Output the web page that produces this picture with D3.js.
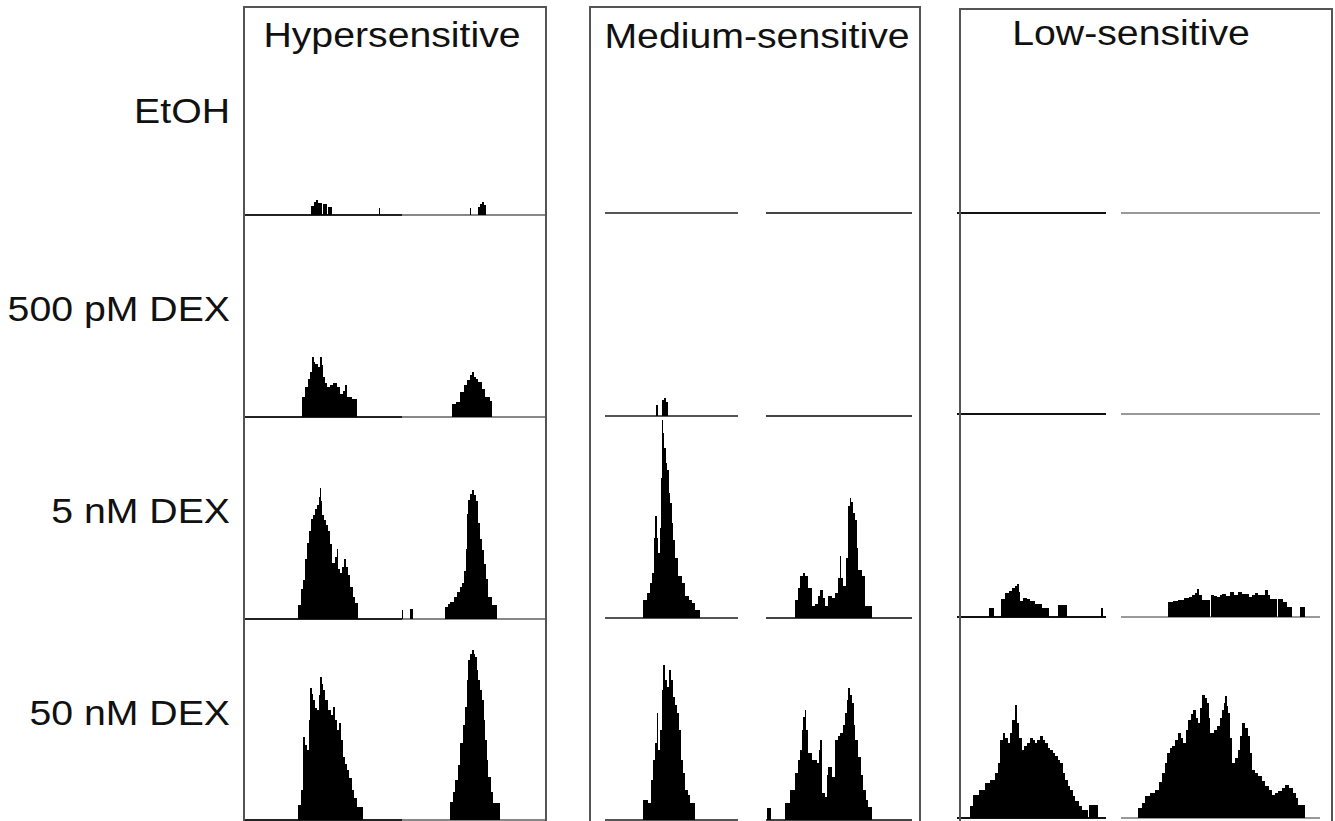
<!DOCTYPE html>
<html>
<head>
<meta charset="utf-8">
<script src="https://cdn.jsdelivr.net/npm/d3@7"></script>
<style>
  html, body { margin: 0; padding: 0; background: #fff; }
  svg { display: block; }
</style>
</head>
<body>
<div id="chart"></div>
<script>
// Categories
const panels = ["Hypersensitive", "Medium-sensitive", "Low-sensitive"];
const conditions = ["EtOH", "500 pM DEX", "5 nM DEX", "50 nM DEX"];

// Signal profiles, [bin, signal] pairs (step after each bin)
// Hypersensitive loci
const hyperEtohL = [[66, 9], [69, 13], [71, 15], [73, 12], [77, 0], [78, 11], [82, 0], [83, 8], [87, 0], [134, 7], [135, 0]];
const hyperEtohR = [[68, 7], [69, 0], [76, 8], [78, 11], [80, 13], [82, 10], [84, 0]];
const hyper500pL = [[57, 20], [60, 30], [63, 38], [65, 45], [67, 60], [69, 55], [70, 53], [73, 50], [75, 60], [77, 52], [78, 40], [80, 34], [82, 30], [85, 32], [88, 34], [92, 30], [95, 23], [98, 26], [100, 32], [102, 20], [107, 18], [112, 0]];
const hyper500pR = [[50, 13], [54, 15], [58, 25], [62, 32], [65, 37], [68, 42], [70, 45], [72, 40], [74, 38], [76, 35], [80, 28], [83, 20], [88, 16], [90, 0]];
const hyper5nL = [[53, 14], [56, 30], [58, 39], [60, 60], [62, 76], [64, 88], [66, 100], [68, 104], [70, 110], [72, 114], [74, 122], [75, 131], [76, 118], [77, 104], [79, 99], [81, 94], [83, 88], [85, 75], [87, 56], [90, 62], [92, 70], [93, 50], [95, 46], [97, 52], [99, 60], [101, 52], [103, 44], [105, 32], [108, 22], [110, 16], [113, 0]];
const hyper5nR = [[0, 9], [1, 0], [8, 10], [11, 0], [43, 12], [46, 15], [48, 17], [52, 22], [55, 27], [58, 32], [60, 36], [62, 48], [64, 70], [65, 105], [66, 119], [68, 125], [70, 129], [72, 124], [74, 118], [76, 96], [78, 80], [80, 69], [82, 55], [84, 40], [86, 22], [90, 14], [95, 0]];
const hyper50nL = [[53, 15], [56, 30], [58, 83], [60, 75], [62, 70], [64, 100], [65, 132], [67, 126], [68, 120], [70, 112], [72, 110], [74, 125], [75, 143], [77, 136], [78, 130], [80, 120], [83, 110], [86, 105], [88, 113], [90, 100], [92, 90], [94, 97], [96, 80], [98, 63], [100, 56], [102, 50], [104, 42], [107, 30], [109, 22], [112, 13], [118, 0]];
const hyper50nR = [[48, 18], [51, 28], [53, 40], [56, 55], [58, 77], [61, 95], [63, 113], [65, 140], [66, 160], [68, 166], [70, 170], [72, 166], [73, 163], [75, 150], [76, 140], [78, 130], [80, 120], [82, 100], [83, 80], [85, 60], [86, 43], [89, 28], [91, 17], [98, 0]];

// Medium-sensitive loci
const mediumEtohL = [];
const mediumEtohR = [];
const medium500pL = [[51, 11], [53, 0], [57, 16], [59, 18], [61, 14], [63, 0]];
const medium500pR = [];
const medium5nL = [[38, 18], [42, 25], [45, 35], [47, 45], [49, 80], [50, 102], [52, 80], [53, 65], [55, 90], [56, 140], [57, 198], [58, 185], [59, 170], [61, 155], [62, 148], [64, 125], [65, 115], [67, 95], [68, 78], [70, 60], [73, 42], [77, 35], [80, 22], [84, 18], [87, 15], [90, 8], [95, 0]];
const medium5nR = [[29, 18], [32, 30], [34, 42], [37, 45], [39, 42], [42, 30], [46, 12], [49, 14], [52, 22], [54, 28], [57, 20], [59, 12], [62, 22], [66, 20], [69, 25], [72, 40], [74, 62], [75, 40], [77, 32], [80, 60], [82, 112], [84, 120], [85, 116], [87, 105], [89, 98], [91, 70], [92, 48], [96, 42], [99, 12], [106, 0]];
const medium50nL = [[38, 20], [43, 17], [46, 40], [48, 60], [50, 77], [52, 107], [53, 70], [55, 90], [57, 130], [58, 155], [60, 140], [62, 133], [64, 150], [66, 140], [68, 123], [70, 115], [72, 107], [74, 90], [76, 60], [78, 47], [80, 30], [83, 25], [85, 17], [90, 0]];
const medium50nR = [[1, 12], [5, 0], [19, 17], [24, 30], [29, 47], [32, 60], [34, 70], [36, 90], [37, 103], [39, 110], [40, 90], [42, 67], [46, 60], [51, 57], [53, 70], [54, 80], [56, 27], [59, 23], [61, 45], [62, 53], [66, 43], [69, 80], [72, 84], [74, 87], [77, 95], [79, 107], [81, 120], [82, 132], [84, 125], [86, 117], [88, 95], [89, 80], [92, 63], [95, 45], [97, 30], [100, 20], [102, 13], [106, 0]];

// Low-sensitive loci
const lowEtohL = [];
const lowEtohR = [];
const low500pL = [];
const low500pR = [];
const low5nL = [[32, 9], [37, 0], [44, 18], [48, 24], [52, 26], [55, 29], [58, 31], [60, 33], [62, 25], [63, 16], [66, 19], [70, 18], [73, 16], [78, 13], [85, 9], [92, 0], [101, 12], [110, 0], [144, 9], [146, 0]];
const low5nR = [[47, 15], [52, 16], [57, 17], [63, 19], [68, 20], [71, 22], [74, 24], [76, 28], [78, 22], [81, 17], [89, 0], [90, 22], [93, 21], [96, 20], [99, 22], [101, 23], [105, 21], [109, 25], [113, 22], [117, 25], [121, 23], [124, 23], [128, 20], [131, 22], [134, 24], [137, 22], [141, 22], [144, 27], [147, 22], [149, 18], [156, 0], [157, 18], [162, 15], [166, 10], [171, 0], [179, 10], [184, 0]];
const low50nL = [[13, 12], [16, 23], [22, 28], [28, 35], [33, 38], [38, 45], [41, 55], [43, 78], [46, 85], [48, 80], [51, 75], [53, 85], [55, 98], [58, 113], [60, 95], [62, 80], [65, 68], [67, 72], [70, 75], [73, 80], [76, 78], [78, 75], [80, 78], [83, 82], [86, 78], [88, 75], [91, 70], [93, 68], [96, 65], [98, 62], [101, 58], [103, 55], [106, 45], [108, 38], [111, 32], [113, 28], [116, 22], [118, 17], [122, 12], [125, 8], [131, 0], [132, 13], [141, 0]];
const low50nR = [[17, 10], [21, 15], [24, 22], [29, 25], [34, 28], [38, 36], [41, 45], [44, 55], [46, 65], [49, 70], [51, 72], [54, 78], [57, 85], [60, 80], [62, 75], [65, 88], [67, 98], [70, 104], [72, 108], [75, 100], [77, 95], [79, 110], [81, 123], [84, 120], [86, 115], [88, 100], [89, 85], [93, 88], [96, 92], [99, 100], [101, 108], [103, 115], [104, 122], [106, 112], [107, 105], [109, 80], [111, 55], [114, 60], [117, 68], [119, 82], [121, 95], [124, 90], [127, 82], [129, 65], [131, 48], [134, 45], [137, 42], [141, 37], [144, 32], [148, 28], [151, 23], [154, 25], [157, 27], [161, 30], [164, 33], [168, 30], [172, 25], [175, 20], [177, 13], [184, 0]];

// table built from the arrays: panel -> condition -> [left, right]
const profiles = [
  [[hyperEtohL, hyperEtohR], [hyper500pL, hyper500pR], [hyper5nL, hyper5nR], [hyper50nL, hyper50nR]],
  [[mediumEtohL, mediumEtohR], [medium500pL, medium500pR], [medium5nL, medium5nR], [medium50nL, medium50nR]],
  [[lowEtohL, lowEtohR], [low500pL, low500pR], [low5nL, low5nR], [low50nL, low50nR]]
];

// ---- layout ----
const W = 1335, H = 821;
const signalMax = 200;       // signal units shown per row
const rowSpan = 200;         // pixels per row for signalMax
const labelX = 230;
const labelY = [123, 321, 523, 725];
const stretch = 1.09;        // the original figure was widened a little

const layout = [
  { x0: 244, x1: 546, top: 7, titleX: 392, titleY: 47,
    tracks: [{ start: 245, len: 157, color: "#222" }, { start: 402, len: 144, color: "#888" }],
    base: [215, 417, 619, 820] },
  { x0: 590, x1: 920, top: 7, titleX: 757, titleY: 48,
    tracks: [{ start: 605, len: 133, color: "#555" }, { start: 766, len: 146, color: "#444" }],
    base: [213, 416, 618, 820] },
  { x0: 960, x1: 1332, top: 9, titleX: 1131, titleY: 45,
    tracks: [{ start: 957, len: 149, color: "#111" }, { start: 1121, len: 199, color: "#999" }],
    base: [213, 414, 617, 818] }
];

const svg = d3.select("#chart").append("svg")
  .attr("width", W)
  .attr("height", H)
  .style("font-family", "'Liberation Sans', Arial, sans-serif");

// Row labels
svg.append("g").selectAll("text")
  .data(conditions)
  .join("text")
  .attr("transform", (d, i) => `translate(${labelX},${labelY[i]}) scale(${stretch},1)`)
  .attr("text-anchor", "end")
  .attr("font-size", 36)
  .attr("fill", "#111")
  .text(d => d);

panels.forEach((name, p) => {
  const L = layout[p];
  const g = svg.append("g");

  profiles[p].forEach((pair, r) => {
    const yScale = d3.scaleLinear()
      .domain([0, signalMax])
      .range([L.base[r], L.base[r] - rowSpan]);

    pair.forEach((series, s) => {
      const t = L.tracks[s];
      const xScale = d3.scaleLinear()
        .domain([0, t.len])
        .range([t.start, t.start + t.len]);

      // baseline of the track
      g.append("line")
        .attr("x1", xScale(0))
        .attr("x2", xScale(t.len))
        .attr("y1", yScale(0))
        .attr("y2", yScale(0))
        .attr("stroke", t.color)
        .attr("stroke-width", 2);

      if (!series.length) return;

      const area = d3.area()
        .x(d => xScale(d[0]))
        .y0(yScale(0))
        .y1(d => yScale(d[1]))
        .curve(d3.curveStepAfter);

      g.append("path")
        .datum(series)
        .attr("fill", "#000")
        .attr("d", area);
    });
  });

  // panel frame, open at the bottom edge of the picture
  g.append("rect")
    .attr("x", L.x0)
    .attr("y", L.top)
    .attr("width", L.x1 - L.x0)
    .attr("height", H + 20 - L.top)
    .attr("fill", "none")
    .attr("stroke", "#555")
    .attr("stroke-width", 2);

  g.append("text")
    .attr("transform", `translate(${L.titleX},${L.titleY}) scale(${stretch},1)`)
    .attr("text-anchor", "middle")
    .attr("font-size", 36)
    .attr("fill", "#111")
    .text(name);
});
</script>
</body>
</html>
